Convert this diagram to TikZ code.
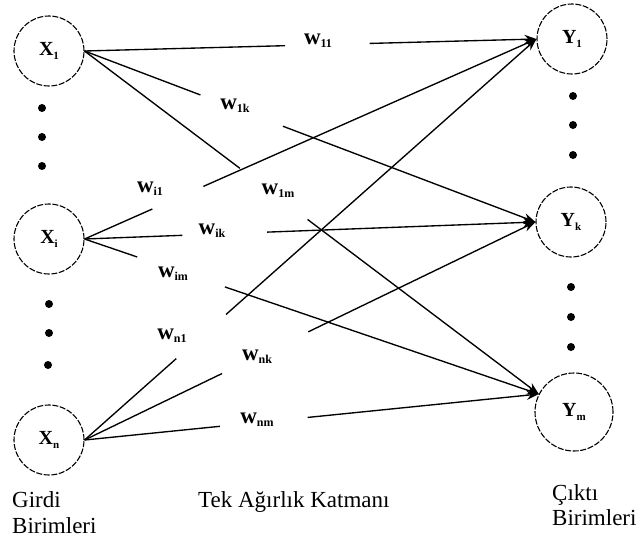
\documentclass[tikz,border=0pt]{standalone}
\usepackage{fontspec}
\setmainfont{Liberation Serif}
\usetikzlibrary{calc,arrows.meta}

% unit label: capital letter with a lowered index
\newcommand{\unitlab}[2]{{\fontsize{20}{20}\selectfont\bfseries #1}\raisebox{-4pt}{\fontsize{11}{11}\selectfont\bfseries #2}}
% weight label: bold w with a lowered index
\newcommand{\wlab}[1]{{\fontsize{23}{23}\selectfont\bfseries w}\raisebox{-3pt}{\fontsize{12}{12}\selectfont\bfseries #1}}

\tikzset{
  unit/.style={circle, draw, line width=1.1pt, dash pattern=on 6pt off 1.6pt,
               minimum size=70pt, inner sep=0pt},
  link/.style={line width=1.35pt},
  feed/.style={link, -{Stealth[length=12pt,width=9pt]}},
  wt/.style={inner sep=0pt},
  dotmark/.style={circle, fill, inner sep=0pt, minimum size=8pt},
  caption/.style={inner sep=0pt, anchor=base west, font=\fontsize{23}{27}\selectfont}
}

\begin{document}
\begin{tikzpicture}[x=1pt, y=-1pt]
  \useasboundingbox (0,0) rectangle (643,542);

  % input units
  \node[unit] (X1) at (49,51)  {\unitlab{X}{1}};
  \node[unit] (Xi) at (49,239) {\unitlab{X}{i}};
  \node[unit] (Xn) at (49,440) {\unitlab{X}{n}};

  % output units
  \node[unit] (Y1) at (572,39)  {\unitlab{Y}{1}};
  \node[unit] (Yk) at (571,222) {\unitlab{Y}{k}};
  \node[unit, minimum size=78pt] (Ym) at (574,412) {\unitlab{Y}{m}};

  % ellipsis dots between the units
  \node[dotmark] (dl1) at (42,108) {};
  \node[dotmark] (dl2) at (42,137) {};
  \node[dotmark] (dl3) at (42,166) {};
  \node[dotmark] (dl4) at (49,304) {};
  \node[dotmark] (dl5) at (49,333) {};
  \node[dotmark] (dl6) at (48,365) {};
  \node[dotmark] (dr1) at (573,96)  {};
  \node[dotmark] (dr2) at (573,125) {};
  \node[dotmark] (dr3) at (573,155) {};
  \node[dotmark] (dr4) at (571,287) {};
  \node[dotmark] (dr5) at (571,317) {};
  \node[dotmark] (dr6) at (571,347) {};

  % arrow targets on the output units
  \coordinate (Y1in) at (Y1.west);
  \coordinate (Ykin) at (Yk.west);
  \coordinate (Ymin) at (Ym.153);

  % weights
  \node[wt] (w11) at (318,41)  {\wlab{11}};
  \node[wt] (w1k) at (235,106) {\wlab{1k}};
  \node[wt] (w1m) at (278,191) {\wlab{1m}};
  \node[wt] (wi1) at (150,189) {\wlab{i1}};
  \node[wt] (wik) at (212,231) {\wlab{ik}};
  \node[wt] (wim) at (173,274) {\wlab{im}};
  \node[wt] (wn1) at (172,336) {\wlab{n1}};
  \node[wt] (wnk) at (257,357) {\wlab{nk}};
  \node[wt] (wnm) at (257,420) {\wlab{nm}};

  % each connection is one straight line, broken where its weight is written
  \foreach \src/\dst/\ga/\gb in {
      X1/Y1/0.444/0.631, X1/Yk/0.257/0.440, X1/Ym/0.342/0.491,
      Xi/Y1/0.150/0.263, Xi/Yk/0.217/0.405, Xi/Ym/0.116/0.309,
      Xn/Y1/0.203/0.313, Xn/Yk/0.305/0.496, Xn/Ym/0.298/0.491} {
    \coordinate (\src-\dst-a) at ($(\src.east)!\ga!(\dst in)$);
    \coordinate (\src-\dst-b) at ($(\src.east)!\gb!(\dst in)$);
    \draw[link] (\src.east) -- (\src-\dst-a);
    \draw[feed] (\src-\dst-b) -- (\dst in);
  }

  % captions
  \node[caption] (cin1)  at (12,507)  {Girdi};
  \node[caption] (cin2)  at (12,533)  {Birimleri};
  \node[caption] (cmid)  at (198,507) {Tek Ağırlık Katmanı};
  \node[caption] (cout1) at (552,500) {Çıktı};
  \node[caption] (cout2) at (552,525) {Birimleri};
\end{tikzpicture}
\end{document}
